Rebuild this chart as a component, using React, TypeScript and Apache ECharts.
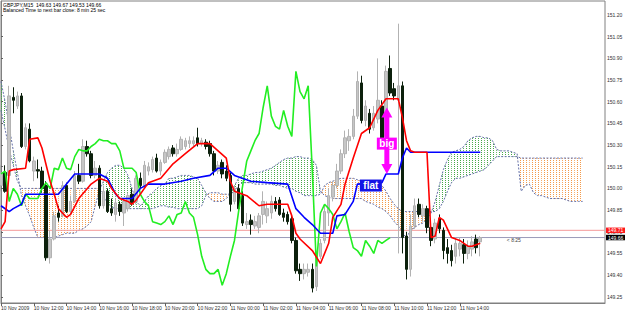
import React, { useEffect, useRef } from 'react';
import * as echarts from 'echarts';

// ---- candles (GBPJPY M15) ----
const opens = [
  150.02, 150.11, 150.09, 150.63, 150.57, 150.64, 150.29, 150.41, 150.12, 150.13,
  150.12, 150.02, 149.52, 149.65, 149.83, 149.81, 150.02, 149.84, 149.91, 150.09,
  150.05, 150.29, 150.24, 150.09, 150.14, 149.88, 149.98, 149.86, 149.82, 149.89,
  149.83, 149.86, 149.96, 149.91, 150.07, 150.02, 150.12, 150.13, 150.21, 150.12,
  150.18, 150.22, 150.28, 150.24, 150.27, 150.29, 150.31, 150.31, 150.35, 150.31,
  150.32, 150.31, 150.24, 150.12, 150.18, 150.12, 150.09, 149.91, 150.00, 149.95,
  149.75, 149.78, 149.74, 149.73, 149.82, 149.81, 149.83, 149.91, 149.92, 149.83,
  149.82, 149.79, 149.64, 149.44, 149.41, 149.42, 149.44, 149.32, 149.53, 149.64,
  149.83, 149.94, 150.02, 150.12, 150.24, 150.33, 150.36, 150.50, 150.73, 150.47,
  150.52, 150.42, 150.48, 150.57, 150.36, 150.83, 150.69, 150.61, 150.71, 149.67,
  149.44, 149.74, 149.89, 149.81, 149.86, 149.73, 149.65, 149.79, 149.71, 149.59,
  149.57, 149.53, 149.58, 149.61, 149.55, 149.58, 149.65, 149.63,
];
const closes = [
  150.11, 149.98, 150.64, 150.61, 150.64, 150.29, 150.42, 150.19, 150.19, 150.12,
  150.00, 149.52, 149.65, 149.81, 149.80, 150.02, 149.84, 149.91, 150.09, 150.05,
  150.29, 150.24, 150.09, 150.14, 149.88, 149.98, 149.84, 149.83, 149.90, 149.84,
  149.91, 149.95, 149.90, 150.07, 150.02, 150.16, 150.15, 150.20, 150.12, 150.18,
  150.25, 150.27, 150.24, 150.27, 150.34, 150.33, 150.33, 150.33, 150.31, 150.33,
  150.29, 150.24, 150.12, 150.16, 150.10, 150.07, 149.89, 150.00, 149.86, 149.76,
  149.77, 149.75, 149.77, 149.81, 149.91, 149.86, 149.91, 149.86, 149.82, 149.80,
  149.77, 149.64, 149.43, 149.41, 149.44, 149.44, 149.31, 149.53, 149.62, 149.84,
  149.95, 150.02, 150.12, 150.24, 150.35, 150.36, 150.50, 150.74, 150.47, 150.57,
  150.41, 150.52, 150.61, 150.35, 150.81, 150.66, 150.64, 150.71, 149.66, 149.44,
  149.74, 149.88, 149.82, 149.86, 149.73, 149.64, 149.76, 149.72, 149.57, 149.55,
  149.50, 149.62, 149.62, 149.55, 149.60, 149.63, 149.59, 149.66,
];
const lows = [
  149.98, 149.97, 150.07, 150.52, 150.55, 150.28, 150.27, 150.18, 150.05, 150.07,
  149.97, 149.50, 149.48, 149.64, 149.77, 149.80, 149.83, 149.82, 149.90, 150.03,
  150.04, 150.22, 150.07, 150.07, 149.86, 149.86, 149.83, 149.81, 149.77, 149.81,
  149.74, 149.84, 149.88, 149.89, 150.00, 150.00, 150.09, 150.11, 150.11, 150.09,
  150.17, 150.20, 150.22, 150.22, 150.26, 150.27, 150.28, 150.29, 150.29, 150.29,
  150.27, 150.22, 150.09, 150.10, 150.07, 150.05, 149.84, 149.89, 149.84, 149.74,
  149.72, 149.68, 149.72, 149.69, 149.75, 149.76, 149.79, 149.84, 149.81, 149.77,
  149.75, 149.62, 149.41, 149.36, 149.37, 149.39, 149.28, 149.29, 149.51, 149.62,
  149.74, 149.91, 150.00, 150.10, 150.21, 150.26, 150.34, 150.48, 150.45, 150.43,
  150.38, 150.40, 150.45, 150.33, 150.34, 150.64, 150.61, 149.55, 149.55, 149.37,
  149.39, 149.72, 149.80, 149.77, 149.69, 149.60, 149.62, 149.69, 149.51, 149.48,
  149.46, 149.48, 149.53, 149.48, 149.51, 149.53, 149.55, 149.53,
];
const highs = [
  150.16, 150.16, 150.71, 150.70, 150.67, 150.66, 150.45, 150.45, 150.22, 150.20,
  150.15, 150.05, 149.71, 149.84, 149.88, 150.05, 150.04, 149.95, 150.12, 150.17,
  150.34, 150.33, 150.26, 150.19, 150.16, 150.02, 150.00, 149.93, 149.93, 149.91,
  149.93, 149.97, 150.00, 150.09, 150.11, 150.19, 150.18, 150.22, 150.24, 150.20,
  150.27, 150.29, 150.30, 150.31, 150.36, 150.35, 150.36, 150.36, 150.42, 150.35,
  150.34, 150.33, 150.26, 150.19, 150.20, 150.16, 150.11, 150.02, 150.03, 149.98,
  149.83, 149.82, 149.81, 149.83, 149.98, 149.91, 149.95, 149.94, 149.94, 149.86,
  149.84, 149.81, 149.66, 149.48, 149.48, 149.48, 149.48, 149.57, 149.65, 149.88,
  150.00, 150.05, 150.17, 150.27, 150.40, 150.41, 150.55, 150.81, 150.78, 150.61,
  150.55, 150.57, 150.90, 150.61, 150.85, 150.92, 150.73, 151.14, 150.74, 149.70,
  149.82, 149.93, 149.93, 149.89, 149.88, 149.76, 149.79, 149.82, 149.73, 149.65,
  149.61, 149.66, 149.66, 149.65, 149.64, 149.67, 149.68, 149.67,
];

// ---- Ichimoku lines: [bar index, price] ----
const tenkan = [
  [0, 149.72], [1, 149.77], [2, 150.12], [3, 150.13], [6, 150.14], [7, 150.34], [9, 150.35],
  [10, 150.28], [12, 150.05], [13, 149.96], [14, 149.86], [16, 149.80], [17, 149.82], [19, 149.93],
  [22, 150.03], [24, 150.07], [26, 150.05], [27, 150.00], [29, 149.93], [31, 149.91], [32, 149.89],
  [33, 149.92], [36, 150.04], [39, 150.07], [42, 150.17], [45, 150.24], [48, 150.31], [51, 150.31],
  [53, 150.26], [55, 150.21], [56, 150.05], [57, 149.98], [60, 149.95], [63, 149.88], [65, 149.89],
  [70, 149.89], [71, 149.81], [72, 149.69], [73, 149.65], [76, 149.57], [78, 149.48], [80, 149.62],
  [81, 149.80], [83, 149.89], [84, 150.03], [86, 150.21], [88, 150.38], [90, 150.42], [92, 150.54],
  [94, 150.62], [97, 150.62], [98, 150.49], [99, 150.33], [100, 150.26], [101, 150.25], [104, 150.25],
  [105, 149.66], [106, 149.67], [107, 149.80], [108, 149.78], [109, 149.72], [110, 149.66],
  [111, 149.65], [112, 149.64], [113, 149.62], [114, 149.60], [115, 149.60], [116, 149.61], [117, 149.62],
];
const kijun = [
  [0, 149.88], [2, 149.84], [3, 149.86], [5, 149.89], [6, 149.96], [14, 149.96], [16, 150.03],
  [18, 150.10], [24, 150.10], [26, 150.07], [28, 149.96], [29, 149.93], [32, 149.93], [34, 150.00],
  [36, 150.03], [40, 150.03], [44, 150.05], [47, 150.07], [51, 150.09], [53, 150.14], [55, 150.14],
  [57, 150.09], [61, 150.05], [65, 150.04], [70, 150.03], [72, 149.86], [74, 149.80], [76, 149.75],
  [78, 149.69], [81, 149.69], [82, 149.81], [84, 149.82], [86, 149.91], [87, 150.03], [93, 150.04],
  [94, 150.10], [97, 150.10], [98, 150.21], [99, 150.28], [100, 150.25], [117, 150.25],
];
const chikou = [
  150.10, 150.12, 149.91, 150.00, 149.96, 149.88, 149.96, 149.93, 149.93, 149.93,
  150.00, 150.04, 150.00, 150.14, 150.13, 150.21, 150.14, 150.13, 150.22, 150.27,
  150.26, 150.26, 150.29, 150.31, 150.34, 150.33, 150.33, 150.31, 150.31, 150.26,
  150.14, 150.14, 150.14, 150.11, 149.96, 149.91, 149.88, 149.77, 149.76, 149.75,
  149.77, 149.81, 149.75, 149.82, 149.83, 149.91, 149.83, 149.80, 149.68, 149.53,
  149.44, 149.41, 149.41, 149.44, 149.33, 149.41, 149.53, 149.64, 149.84, 150.02,
  150.19, 150.26, 150.33, 150.38, 150.56, 150.71, 150.50, 150.43, 150.41, 150.54,
  150.43, 150.36, 150.81, 150.67, 150.62, 150.71, 150.12, 149.46, 149.83, 149.89,
  149.86, 149.82, 149.72, 149.77, 149.83, 149.70, 149.59, 149.57, 149.53, 149.64,
  149.60, 149.55, 149.64, 149.62, 149.64, 149.66,
];
const spanA = [
  150.74, 150.60, 150.43, 150.26, 150.11, 149.95, 149.88, 149.81, 149.73, 149.66,
  149.66, 149.66, 149.66, 149.66, 149.67, 149.68, 149.69, 149.69, 149.69, 149.71,
  149.72, 149.74, 149.77, 149.88, 149.98, 150.05, 150.11, 150.14, 150.16, 150.16,
  150.14, 150.09, 150.00, 149.91, 149.88, 149.91, 149.95, 149.97, 150.00, 150.02,
  150.03, 150.07, 150.07, 150.08, 150.09, 150.09, 150.09, 150.08, 150.07, 150.02,
  149.97, 149.93, 149.91, 149.91, 149.91, 149.93, 149.96, 150.02, 150.07, 150.09,
  150.09, 150.10, 150.11, 150.11, 150.12, 150.13, 150.14, 150.16, 150.18, 150.20,
  150.21, 150.21, 150.22, 150.22, 150.21, 150.21, 150.20, 150.16, 149.98, 149.95,
  149.94, 149.93, 149.93, 149.93, 149.93, 149.93, 149.93, 149.93, 149.93, 149.91,
  149.90, 149.89, 149.87, 149.86, 149.84, 149.81, 149.77, 149.74, 149.69, 149.66,
  149.71, 149.73, 149.75, 149.76, 149.79, 149.83, 149.91, 150.02, 150.13, 150.20,
  150.25, 150.26, 150.27, 150.29, 150.33, 150.35, 150.36, 150.36, 150.35, 150.35,
  150.33, 150.27, 150.26, 150.26, 150.26, 150.25, 150.24, 149.98, 150.02, 150.03,
  149.97, 149.95, 149.95, 149.94, 149.93, 149.93, 149.93, 149.93, 149.92, 149.91,
  149.91, 149.91, 149.91,
];
const spanB = [
  150.54, 150.41, 150.27, 150.16, 150.05, 150.00, 150.00, 150.00, 150.00, 150.00,
  150.00, 150.00, 150.00, 150.00, 150.00, 150.00, 150.00, 150.00, 150.00, 150.00,
  150.00, 150.00, 150.00, 150.00, 150.00, 149.95, 149.90, 149.87, 149.86, 149.86,
  149.86, 149.86, 149.86, 149.86, 149.86, 149.86, 149.86, 149.86, 149.87, 149.88,
  149.88, 149.87, 149.87, 149.86, 149.86, 149.86, 149.86, 149.86, 149.86, 149.88,
  149.95, 149.97, 149.97, 149.97, 149.96, 149.96, 149.96, 149.98, 150.02, 150.04,
  150.04, 150.04, 150.03, 150.03, 150.03, 150.03, 150.03, 150.02, 150.02, 150.01,
  150.00, 150.00, 149.98, 149.97, 149.95, 149.95, 149.95, 149.95, 149.96, 150.02,
  150.04, 150.05, 150.06, 150.07, 150.07, 150.07, 150.07, 150.06, 150.05, 150.05,
  150.04, 150.03, 150.03, 150.02, 149.98, 149.93, 149.89, 149.86, 149.84, 149.84,
  149.84, 149.84, 149.84, 149.84, 149.84, 149.84, 149.84, 149.86, 149.91, 149.98,
  150.04, 150.07, 150.07, 150.08, 150.09, 150.10, 150.11, 150.12, 150.13, 150.16,
  150.19, 150.22, 150.22, 150.22, 150.22, 150.22, 150.22, 150.21, 150.21, 150.21,
  150.21, 150.21, 150.21, 150.21, 150.21, 150.21, 150.21, 150.21, 150.21, 150.21,
  150.21, 150.21, 150.21,
];

// ---- axes ----
const xTickIdx = [0, 8, 16, 24, 32, 40, 48, 56, 64, 72, 80, 88, 96, 104, 112];
const xTickLabels = [
  '10 Nov 2009', '10 Nov 12:00', '10 Nov 14:00', '10 Nov 16:00', '10 Nov 18:00',
  '10 Nov 20:00', '10 Nov 22:00', '11 Nov 00:00', '11 Nov 02:00', '11 Nov 04:00',
  '11 Nov 06:00', '11 Nov 08:00', '11 Nov 10:00', '11 Nov 12:00', '11 Nov 14:00',
];
const yTicks = [149.25, 149.4, 149.55, 149.7, 149.85, 150.0, 150.15, 150.3, 150.45, 150.6, 150.75, 150.9, 151.05, 151.2];
const askPrice = 149.71;
const bidPrice = 149.66;
const headerLine1 = 'GBPJPY,M15  149.63 149.67 149.53 149.66';
const headerLine2 = 'Balanced Time to next bar close: 8 min 25 sec';
const timerText = '< 8:25';

// annotation anchors (bar index, price)
const bigArrow = { i: 94.2, top: 150.56, bottom: 150.1 };
const bigLabel = { i: 94.2, p: 150.31, text: 'big' };
const flatLabel = { i: 90.3, p: 150.02, text: 'flat' };

const X_MAX = 147.46;
const FONT = '"Liberation Sans", Arial, sans-serif';

export default function App() {
  const ref = useRef<HTMLDivElement>(null);
  useEffect(() => {
    const el = ref.current as HTMLDivElement;
    const chart = echarts.init(el, null, { renderer: 'svg' });

    const makePattern = (color: string) => {
      const c = document.createElement('canvas');
      c.width = 3;
      c.height = 2;
      const g = c.getContext('2d') as CanvasRenderingContext2D;
      g.fillStyle = color;
      g.fillRect(1, 0, 1, 1);
      return { image: c, repeat: 'repeat', imageWidth: 3, imageHeight: 2 };
    };
    const greenPat = makePattern('#48a848');
    const orangePat = makePattern('#f39a4a');

    const candleData = opens.map((o, i) => [i, o, closes[i], lows[i], highs[i]]);
    const cloudData = spanA.slice(0, -1).map((a, i) => [i, a, spanB[i], spanA[i + 1], spanB[i + 1]]);

    const option: any = {
      animation: false,
      backgroundColor: '#ffffff',
      grid: {
        left: 1, top: 1, right: 20, bottom: 10,
        show: true, borderColor: '#808080', borderWidth: 1,
        containLabel: false, outerBoundsMode: 'none',
      },
      xAxis: {
        type: 'value', min: 0, max: X_MAX,
        axisLine: { show: true, lineStyle: { color: '#808080' } },
        axisTick: { show: true, customValues: xTickIdx, length: 3, lineStyle: { color: '#606060' } },
        axisLabel: {
          customValues: xTickIdx,
          formatter: (v: number) => xTickLabels[xTickIdx.indexOf(Math.round(v))] || '',
          fontSize: 5, fontFamily: FONT, color: '#303030', align: 'left', margin: 2,
        },
        splitLine: { show: false },
      },
      yAxis: {
        type: 'value', position: 'right', min: 149.207, max: 151.297, scale: true,
        axisLine: { show: true, lineStyle: { color: '#808080' } },
        axisTick: { show: true, customValues: yTicks, length: 2, lineStyle: { color: '#606060' } },
        axisLabel: {
          customValues: yTicks,
          formatter: (v: number) => v.toFixed(2),
          fontSize: 5, fontFamily: FONT, color: '#303030', margin: 2,
        },
        splitLine: { show: false },
      },
      series: [
        {
          type: 'custom', name: 'cloud', z: 1, silent: true, clip: true,
          dimensions: ['i', 'a', 'b', 'a1', 'b1'],
          encode: { x: 0, y: 1 },
          data: cloudData,
          renderItem: (params: any, api: any) => {
            const i = api.value(0);
            const a0 = api.value(1), b0 = api.value(2), a1 = api.value(3), b1 = api.value(4);
            const P = (x: number, y: number) => api.coord([x, y]);
            const d0 = a0 - b0, d1 = a1 - b1;
            const poly = (pts: number[][], up: boolean) => ({
              type: 'polygon', shape: { points: pts },
              style: { fill: up ? greenPat : orangePat, stroke: null },
            });
            const children: any[] = [];
            if (d0 * d1 >= 0) {
              children.push(poly([P(i, a0), P(i + 1, a1), P(i + 1, b1), P(i, b0)], d0 + d1 >= 0));
            } else {
              const t = d0 / (d0 - d1);
              const xc = i + t;
              const yc = a0 + (a1 - a0) * t;
              children.push(poly([P(i, a0), P(xc, yc), P(i, b0)], d0 > 0));
              children.push(poly([P(xc, yc), P(i + 1, a1), P(i + 1, b1)], d1 > 0));
            }
            return { type: 'group', children };
          },
        },
        {
          type: 'line', name: 'spanA', z: 2, silent: true, showSymbol: false,
          data: spanA.map((v, i) => [i, v]),
          lineStyle: { color: '#6470a8', width: 1, type: [2, 1.5] },
        },
        {
          type: 'line', name: 'spanB', z: 2, silent: true, showSymbol: false,
          data: spanB.map((v, i) => [i, v]),
          lineStyle: { color: '#6470a8', width: 1, type: [2, 1.5] },
        },
        {
          type: 'line', name: 'ask', z: 2, silent: true, showSymbol: false,
          data: [[0, askPrice], [X_MAX, askPrice]],
          lineStyle: { color: '#f49a9a', width: 1 },
          endLabel: {
            show: true, formatter: askPrice.toFixed(2), distance: 1,
            backgroundColor: '#ff1a1a', color: '#ffffff', fontSize: 5, fontFamily: FONT,
            padding: [0.5, 2, 0, 2],
          },
        },
        {
          type: 'line', name: 'bid', z: 2, silent: true, showSymbol: false,
          data: [[0, bidPrice], [X_MAX, bidPrice]],
          lineStyle: { color: '#9a9ab8', width: 1 },
          endLabel: {
            show: true, formatter: bidPrice.toFixed(2), distance: 1,
            backgroundColor: '#000000', color: '#ffffff', fontSize: 5, fontFamily: FONT,
            padding: [0.5, 2, 0, 2],
          },
        },
        {
          type: 'candlestick', name: 'price', z: 3, silent: true,
          data: candleData, barWidth: 3,
          itemStyle: {
            color: '#c6c6c6', color0: '#0c200c',
            borderColor: '#b2b2b2', borderColor0: '#0c200c', borderWidth: 1,
          },
        },
        {
          type: 'line', name: 'chikou', z: 4, silent: true, showSymbol: false,
          data: chikou.map((v, i) => [i, v]),
          lineStyle: { color: '#22ee22', width: 1.6 },
        },
        {
          type: 'line', name: 'kijun', z: 5, silent: true, showSymbol: false,
          data: kijun,
          lineStyle: { color: '#0000ff', width: 1.6 },
        },
        {
          type: 'line', name: 'tenkan', z: 6, silent: true, showSymbol: false,
          data: tenkan,
          lineStyle: { color: '#ff0000', width: 1.6 },
        },
      ],
    };
    chart.setOption(option);

    const px = (i: number, p: number) => chart.convertToPixel({ xAxisIndex: 0, yAxisIndex: 0 }, [i, p]) as number[];
    const [ax, ayTop] = px(bigArrow.i, bigArrow.top);
    const [, ayBot] = px(bigArrow.i, bigArrow.bottom);
    const hl = 10, hw = 5.5, sw = 2.5;
    const arrowPts = [
      [ax, ayTop], [ax + hw, ayTop + hl], [ax + sw, ayTop + hl], [ax + sw, ayBot - hl],
      [ax + hw, ayBot - hl], [ax, ayBot], [ax - hw, ayBot - hl], [ax - sw, ayBot - hl],
      [ax - sw, ayTop + hl], [ax - hw, ayTop + hl],
    ];
    const [bx, by] = px(bigLabel.i, bigLabel.p);
    const [fx, fy] = px(flatLabel.i, flatLabel.p);
    const [tx, ty] = px(123.5, bidPrice);

    chart.setOption({
      graphic: [
        { type: 'text', left: 3, top: 2.5, z: 50, style: { text: headerLine1, font: `5px ${FONT}`, fill: '#000000' } },
        { type: 'text', left: 3, top: 7.5, z: 50, style: { text: headerLine2, font: `5px ${FONT}`, fill: '#000000' } },
        { type: 'text', x: tx, y: ty + 2, z: 50, style: { text: timerText, font: `5px ${FONT}`, fill: '#404040', verticalAlign: 'middle' } },
        { type: 'polygon', z: 40, shape: { points: arrowPts }, style: { fill: '#ff00ff' } },
        { type: 'rect', z: 41, shape: { x: bx - 10, y: by - 6, width: 20, height: 12 }, style: { fill: '#ff00ff' } },
        { type: 'text', z: 42, x: bx, y: by, style: { text: bigLabel.text, font: `bold 10px ${FONT}`, fill: '#ffffff', align: 'center', verticalAlign: 'middle' } },
        { type: 'rect', z: 41, shape: { x: fx - 11, y: fy - 6, width: 22, height: 12 }, style: { fill: '#1414e6' } },
        { type: 'text', z: 42, x: fx, y: fy, style: { text: flatLabel.text, font: `bold 10px ${FONT}`, fill: '#ffffff', align: 'center', verticalAlign: 'middle' } },
      ],
    });

    return () => chart.dispose();
  }, []);
  return <div ref={ref} style={{ position: 'absolute', left: 0, top: 0, width: 625, height: 313 }} />;
}
